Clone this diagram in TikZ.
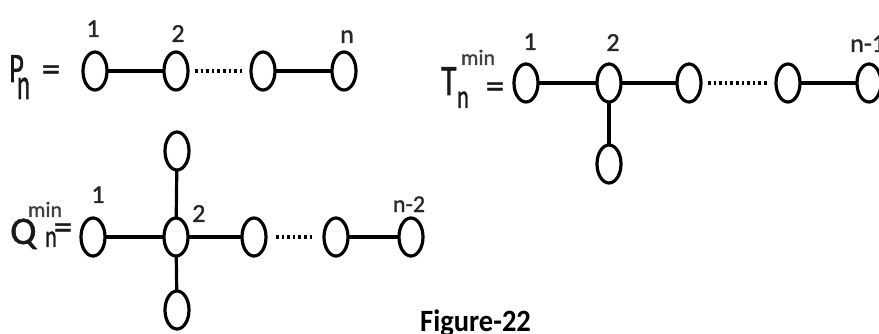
\documentclass[tikz,border=0pt]{standalone}
\usepackage{fontspec}
\setmainfont{Carlito}
\newfontfamily\hvfont{Carlito}[FakeBold=1.2]
\usetikzlibrary{shapes.geometric}
\begin{document}
\begin{tikzpicture}[x=1pt,y=-1pt,
  vtx/.style={ellipse, draw=black, line width=3.2pt, minimum width=24pt, minimum height=38pt, inner sep=0pt, outer sep=0pt},
  edge/.style={draw=black, line width=3.2pt},
  dots/.style={draw=black, line width=3.6pt, dash pattern=on 2.6pt off 3pt, shorten <=7pt, shorten >=7pt},
  lbl/.style={anchor=base, inner sep=0pt, text=black!85, font=\hvfont\fontsize{26}{26}\selectfont},
  big/.style={anchor=base west, inner sep=0pt, text=black!90, font=\hvfont\fontsize{30}{30}\selectfont},
  sub/.style={anchor=base west, inner sep=0pt, text=black!90, font=\hvfont\fontsize{22}{22}\selectfont},
  eqs/.style={anchor=center, inner sep=0pt, text=black!90, font=\hvfont\fontsize{36}{36}\selectfont},
  mn/.style={anchor=base, inner sep=0pt, text=black!75, font=\hvfont\fontsize{22}{22}\selectfont},
  captxt/.style={anchor=base west, inner sep=0pt, text=black, font=\fontsize{31}{31}\selectfont\bfseries}
]
\useasboundingbox (0,0) rectangle (879,334);

% ---------- P_n ----------
\node[big] (pP) at (9,82) {\scalebox{0.95}[1.4]{P}};
\node[sub] (pn) at (17,99) {\scalebox{1.1}[2.0]{n}};
\node[eqs] (peq) at (51,73) {=};
\node[vtx] (p1) at (95,71) {};
\node[vtx] (p2) at (176,71) {};
\node[vtx] (p3) at (263,71) {};
\node[vtx] (p4) at (344,71) {};
\draw[edge] (p1) -- (p2);
\draw[dots] (p2) -- (p3);
\draw[edge] (p3) -- (p4);
\node[lbl] (lp1) at (93,37) {1};
\node[lbl] (lp2) at (178,42) {2};
\node[lbl] (lpn) at (347,43) {n};

% ---------- T_n^min ----------
\node[big] (tT) at (441,95) {\scalebox{1.05}[1.45]{T}};
\node[sub] (tn) at (457,108) {\scalebox{1.0}[1.55]{n}};
\node[mn] (tmin) at (478,65) {min};
\node[eqs] (teq) at (495,90) {=};
\node[vtx] (t1) at (526,83) {};
\node[vtx] (t2) at (609,83) {};
\node[vtx] (t3) at (689,83) {};
\node[vtx] (t4) at (788,83) {};
\node[vtx] (t5) at (869,83) {};
\node[vtx] (t6) at (609,164) {};
\draw[edge] (t1) -- (t2);
\draw[edge] (t2) -- (t3);
\draw[dots] (t3) -- (t4);
\draw[edge] (t4) -- (t5);
\draw[edge] (t2) -- (t6);
\node[lbl] (lt1) at (530,50) {1};
\node[lbl] (lt2) at (613,51) {2};
\node[lbl, anchor=base west] (ltn) at (850,52) {n-1};

% ---------- Q_n^min ----------
\node[big] (qQ) at (10,244) {\scalebox{1.3}[1.3]{Q}};
\node[sub] (qn) at (45,247) {\scalebox{1.0}[1.45]{n}};
\node[mn] (qmin) at (45,217) {min};
\node[eqs] (qeq) at (63,231) {=};
\node[vtx] (q1) at (93,237) {};
\node[vtx] (q2) at (176,237) {};
\node[vtx] (q3) at (254,237) {};
\node[vtx] (q4) at (336,237) {};
\node[vtx] (q5) at (411,237) {};
\node[vtx] (qt) at (177,151) {};
\node[vtx] (qb) at (177,310) {};
\draw[edge] (q1) -- (q2);
\draw[edge] (q2) -- (q3);
\draw[dots, shorten <=10pt, shorten >=10pt] (q3) -- (q4);
\draw[edge] (q4) -- (q5);
\draw[edge] (qt) -- (q2);
\draw[edge] (q2) -- (qb);
\node[lbl] (lq1) at (98,203) {1};
\node[lbl, anchor=base west] (lq2) at (192,222) {2};
\node[lbl, font=\hvfont\fontsize{24}{24}\selectfont] (lqn) at (409,212) {n-2};

% ---------- caption ----------
\node[captxt] (capt) at (420,331) {\scalebox{0.92}[1]{Figure-22}};
\end{tikzpicture}
\end{document}
